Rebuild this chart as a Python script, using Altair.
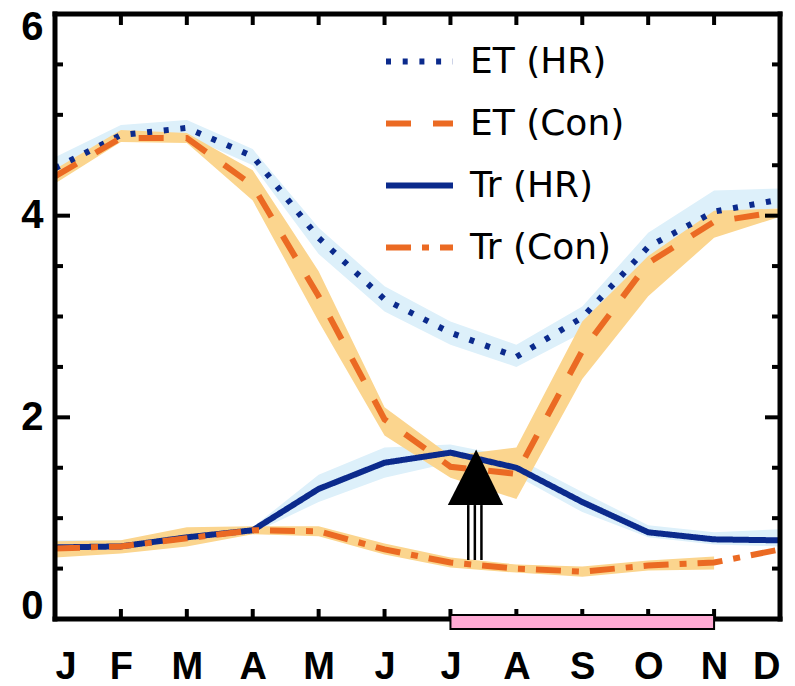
import altair as alt
import pandas as pd

# Monthly axis (index 0..11) and its single-letter labels
month_idx = list(range(12))
month_letters = ["J", "F", "M", "A", "M", "J", "J", "A", "S", "O", "N", "D"]

# Evapotranspiration (ET) and transpiration (Tr), mm/day, with uncertainty ranges
et_hr = [4.47, 4.80, 4.87, 4.59, 3.78, 3.17, 2.84, 2.60, 2.99, 3.69, 4.04, 4.16]
et_hr_lo = [4.40, 4.74, 4.79, 4.50, 3.62, 3.05, 2.72, 2.50, 2.84, 3.58, 3.96, 4.08]
et_hr_hi = [4.58, 4.90, 4.95, 4.66, 3.88, 3.30, 2.95, 2.72, 3.10, 3.83, 4.25, 4.27]

et_con = [4.39, 4.77, 4.77, 4.30, 3.20, 1.98, 1.51, 1.44, 2.66, 3.53, 3.94, 4.04]
et_con_lo = [4.32, 4.73, 4.72, 4.15, 2.95, 1.82, 1.40, 1.19, 2.38, 3.20, 3.78, 3.99]
et_con_hi = [4.46, 4.85, 4.82, 4.45, 3.45, 2.10, 1.62, 1.70, 2.95, 3.60, 4.05, 4.07]

tr_hr = [0.71, 0.72, 0.81, 0.88, 1.29, 1.55, 1.65, 1.50, 1.16, 0.86, 0.79, 0.78]
tr_hr_lo = [0.66, 0.68, 0.76, 0.85, 1.16, 1.40, 1.55, 1.42, 1.06, 0.81, 0.74, 0.72]
tr_hr_hi = [0.78, 0.78, 0.86, 0.91, 1.43, 1.70, 1.73, 1.60, 1.26, 0.93, 0.86, 0.89]

tr_con = [0.70, 0.72, 0.80, 0.88, 0.87, 0.69, 0.56, 0.50, 0.47, 0.53, 0.56, 0.69]
tr_con_lo = [0.61, 0.65, 0.72, 0.84, 0.82, 0.64, 0.51, 0.46, 0.42, 0.48, 0.49, None]
tr_con_hi = [0.77, 0.78, 0.91, 0.92, 0.92, 0.75, 0.61, 0.54, 0.52, 0.58, 0.62, None]

series_names = ["ET (HR)", "ET (Con)", "Tr (HR)", "Tr (Con)"]
series_colors = ["#0B2A8C", "#EB6A23", "#0B2A8C", "#EB6A23"]
series_dashes = [[5, 11.7], [25, 22], [1, 0], [25, 11, 7, 11]]

# Dry-season bar (Jul..Nov) and arrow marking the onset
season_start, season_end = 6, 10
season_top, season_bottom = 0.04, -0.10
arrow_x = [5.96, 6.39, 6.80]
arrow_y = [1.13, 1.68, 1.13]
arrow_base = 1.13
shaft_x = [6.27, 6.37, 6.47]
shaft_bottom = 0.585

# Tick positions
inner_months = list(range(1, 11))
y_labels = [0, 2, 4, 6]
y_major = [2, 4]
y_minor_left = [0.5, 1.0, 1.5, 2.5, 3.0, 3.5, 5.0, 5.5]
y_minor_right = [0.5, 1.0, 1.5, 2.5, 3.0, 3.5, 4.5, 5.0, 5.5]

LIGHT_BLUE = "#DDF0FA"
LIGHT_ORANGE = "#FBD58E"

# ---- tables -------------------------------------------------------------
draw_order = [("ET (HR)", et_hr, et_hr_lo, et_hr_hi, "HR"),
              ("Tr (HR)", tr_hr, tr_hr_lo, tr_hr_hi, "HR"),
              ("ET (Con)", et_con, et_con_lo, et_con_hi, "Con"),
              ("Tr (Con)", tr_con, tr_con_lo, tr_con_hi, "Con")]
rows = []
for name, vals, lo, hi, fam in draw_order:
    for m, v, l, h in zip(month_idx, vals, lo, hi):
        rows.append({"month": m, "series": name, "value": v, "lo": l, "hi": h, "family": fam})
df = pd.DataFrame(rows)

xscale = alt.Scale(domain=[0, 11], nice=False, zero=False)
yscale = alt.Scale(domain=[0, 6], nice=False, zero=False)

label_font = "Liberation Sans"
x_axis = alt.Axis(values=month_idx, labelExpr="%s[datum.value]" % str(month_letters),
                  grid=False, domain=False, ticks=False, labelFont=label_font,
                  labelFontSize=38, labelFontWeight="bold", labelColor="black",
                  labelPadding=29, labelAngle=0)
y_axis = alt.Axis(values=y_labels, format="d", grid=False, domain=False, ticks=False,
                  labelFont=label_font, labelFontSize=40, labelFontWeight="bold",
                  labelColor="black", labelPadding=12, labelFlush=True, labelFlushOffset=7)


def XQ(field):
    return alt.X(field, scale=xscale, title=None)


def YQ(field):
    return alt.Y(field, scale=yscale, title=None)


def band(family, color):
    return (alt.Chart(df).transform_filter(alt.datum.family == family)
            .mark_area(color=color, opacity=1)
            .encode(x=XQ("month:Q"), y=YQ("lo:Q"), y2="hi:Q", detail="series:N"))


bands_hr = band("HR", LIGHT_BLUE)
bands_con = band("Con", LIGHT_ORANGE)

legend = alt.Legend(orient="none", legendX=328, legendY=11, symbolType="stroke",
                    symbolSize=4489, symbolStrokeWidth=6, labelFont="DejaVu Sans",
                    labelFontSize=36, labelColor="black", labelOffset=14,
                    labelLimit=400, rowPadding=7, padding=0)

lines = alt.Chart(df).mark_line(strokeWidth=6).encode(
    x=alt.X("month:Q", scale=xscale, axis=x_axis, title=None),
    y=alt.Y("value:Q", scale=yscale, axis=y_axis, title=None),
    color=alt.Color("series:N", scale=alt.Scale(domain=series_names, range=series_colors),
                    legend=legend, title=None),
    strokeDash=alt.StrokeDash("series:N", scale=alt.Scale(domain=series_names, range=series_dashes),
                              legend=legend, title=None),
)

# Plot frame
frame_df = pd.DataFrame({"x": [0, 11, 0, 0], "x2": [0, 11, 11, 11],
                         "y": [0, 0, 0, 6], "y2": [6, 6, 0, 6]})
frame = alt.Chart(frame_df).mark_rule(color="black", strokeWidth=5, strokeCap="square").encode(
    x=XQ("x:Q"), x2="x2:Q", y=YQ("y:Q"), y2="y2:Q")

# Inward ticks
tick_style = dict(color="black", strokeWidth=4)
mt = pd.DataFrame({"m": inner_months})
top_ticks = alt.Chart(mt).mark_rule(y2Offset=11, **tick_style).encode(
    x=XQ("m:Q"), y=alt.datum(6, scale=yscale, title=None), y2=alt.datum(6))
bottom_ticks = alt.Chart(mt).mark_rule(y2Offset=-10, **tick_style).encode(
    x=XQ("m:Q"), y=alt.datum(0, scale=yscale, title=None), y2=alt.datum(0))


def side_ticks(vals, xpos, length):
    return alt.Chart(pd.DataFrame({"v": vals})).mark_rule(x2Offset=length, **tick_style).encode(
        y=YQ("v:Q"), x=alt.datum(xpos, scale=xscale, title=None), x2=alt.datum(xpos))


left_major = side_ticks(y_major, 0, 15)
left_minor = side_ticks(y_minor_left, 0, 8)
right_major = side_ticks(y_major, 11, -15)
right_minor = side_ticks(y_minor_right, 11, -8)

# Dry-season bar
season = alt.Chart(pd.DataFrame({"a": [season_start], "b": [season_end],
                                 "t": [season_top], "u": [season_bottom]})).mark_rect(
    fill="#FFAAD4", stroke="black", strokeWidth=2).encode(
    x=XQ("a:Q"), x2="b:Q", y=YQ("t:Q"), y2="u:Q")

# Arrow: filled head and triple-line shaft
head = alt.Chart(pd.DataFrame({"x": arrow_x, "y": arrow_y, "b": [arrow_base] * 3})).mark_area(
    color="black", opacity=1).encode(x=XQ("x:Q"), y=YQ("y:Q"), y2="b:Q")
shaft = alt.Chart(pd.DataFrame({"x": shaft_x, "y": [arrow_base] * 3, "y2": [shaft_bottom] * 3})).mark_rule(
    color="black", strokeWidth=2.5).encode(x=XQ("x:Q"), y=YQ("y:Q"), y2="y2:Q")

chart = alt.layer(
    bands_hr, bands_con, lines,
    top_ticks, bottom_ticks, left_major, left_minor, right_major, right_minor,
    frame, season, head, shaft,
).properties(
    width=725, height=605,
    autosize=alt.AutoSizeParams(type="none"),
    padding={"left": 55, "top": 14, "right": 15, "bottom": 67},
    background="white",
).configure_view(strokeWidth=0)

chart.save("out.html", embed_options={"renderer": "svg", "actions": False})
